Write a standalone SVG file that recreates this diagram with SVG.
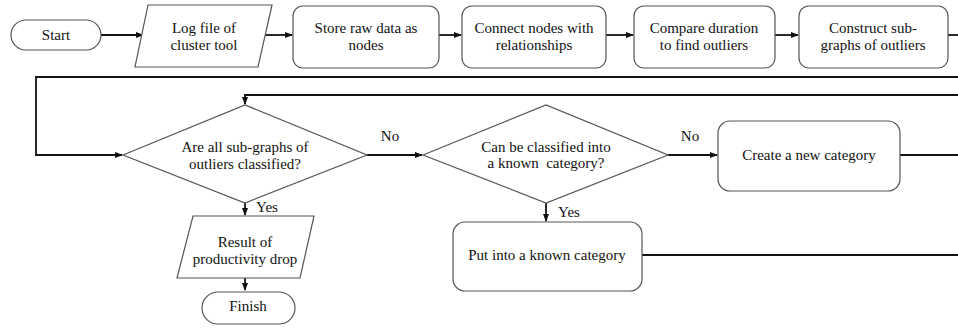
<svg xmlns="http://www.w3.org/2000/svg" width="958" height="328" viewBox="0 0 958 328">
<defs>
<marker id="ah" markerWidth="8" markerHeight="6" refX="7" refY="3" orient="auto" markerUnits="userSpaceOnUse">
<path d="M0,0 L8,3 L0,6 Z" fill="#111"/>
</marker>
<style>
.shape{fill:#fff;stroke:#555;stroke-width:1.2}
.c{fill:none;stroke:#111;stroke-width:1.8}
</style>
</defs>
<rect width="958" height="328" fill="#fff"/>
<g id="connectors">
<line class="c" x1="101" y1="35" x2="143" y2="35" marker-end="url(#ah)"/>
<line class="c" x1="265" y1="35" x2="292" y2="35" marker-end="url(#ah)"/>
<line class="c" x1="439" y1="35" x2="461" y2="35" marker-end="url(#ah)"/>
<line class="c" x1="606" y1="35" x2="633" y2="35" marker-end="url(#ah)"/>
<line class="c" x1="775" y1="35" x2="798" y2="35" marker-end="url(#ah)"/>
<polyline class="c" points="948,35 958,35"/>
<polyline class="c" points="958,77 36,77 36,155 122,155" marker-end="url(#ah)"/>
<polyline class="c" points="958,95 245,95 245,104" marker-end="url(#ah)"/>
<line class="c" x1="367" y1="155" x2="422" y2="155" marker-end="url(#ah)"/>
<line class="c" x1="668" y1="155" x2="717" y2="155" marker-end="url(#ah)"/>
<line class="c" x1="900" y1="155" x2="958" y2="155"/>
<line class="c" x1="642" y1="255" x2="958" y2="255"/>
<line class="c" x1="245" y1="203" x2="245" y2="215" marker-end="url(#ah)"/>
<line class="c" x1="546" y1="203" x2="546" y2="221" marker-end="url(#ah)"/>
<line class="c" x1="245" y1="278" x2="245" y2="290" marker-end="url(#ah)"/>
<text x="390" y="141" font-family="Liberation Serif" font-size="15" fill="#111" text-anchor="middle">No</text>
<text x="690" y="141" font-family="Liberation Serif" font-size="15" fill="#111" text-anchor="middle">No</text>
<text x="267" y="212" font-family="Liberation Serif" font-size="15" fill="#111" text-anchor="middle">Yes</text>
<text x="569" y="217" font-family="Liberation Serif" font-size="15" fill="#111" text-anchor="middle">Yes</text>
</g>
<g id="start">
<rect class="shape" x="11" y="20" width="90" height="30" rx="15"/>
<text x="56" y="40" font-family="Liberation Serif" font-size="15" fill="#111" text-anchor="middle">Start</text>
</g>
<g id="logfile">
<polygon class="shape" points="148,5 272,5 258,67 135,67"/>
<text x="204" y="33" font-family="Liberation Serif" font-size="15" fill="#111" text-anchor="middle">Log file of</text>
<text x="204" y="50" font-family="Liberation Serif" font-size="15" fill="#111" text-anchor="middle">cluster tool</text>
</g>
<g id="store">
<rect class="shape" x="293" y="6" width="146" height="62" rx="10"/>
<text x="366" y="33" font-family="Liberation Serif" font-size="15" fill="#111" text-anchor="middle">Store raw data as</text>
<text x="366" y="50" font-family="Liberation Serif" font-size="15" fill="#111" text-anchor="middle">nodes</text>
</g>
<g id="connect">
<rect class="shape" x="462" y="6" width="144" height="62" rx="10"/>
<text x="534" y="33" font-family="Liberation Serif" font-size="15" fill="#111" text-anchor="middle">Connect nodes with</text>
<text x="534" y="50" font-family="Liberation Serif" font-size="15" fill="#111" text-anchor="middle">relationships</text>
</g>
<g id="compare">
<rect class="shape" x="634" y="6" width="141" height="62" rx="10"/>
<text x="704" y="33" font-family="Liberation Serif" font-size="15" fill="#111" text-anchor="middle">Compare duration</text>
<text x="704" y="50" font-family="Liberation Serif" font-size="15" fill="#111" text-anchor="middle">to find outliers</text>
</g>
<g id="construct">
<rect class="shape" x="799" y="6" width="149" height="62" rx="10"/>
<text x="873" y="33" font-family="Liberation Serif" font-size="15" fill="#111" text-anchor="middle">Construct sub-</text>
<text x="873" y="50" font-family="Liberation Serif" font-size="15" fill="#111" text-anchor="middle">graphs of outliers</text>
</g>
<g id="decision1">
<polygon class="shape" points="123,155 245,105 367,155 245,203"/>
<text x="245" y="152" font-family="Liberation Serif" font-size="15" fill="#111" text-anchor="middle">Are all sub-graphs of</text>
<text x="245" y="169" font-family="Liberation Serif" font-size="15" fill="#111" text-anchor="middle">outliers classified?</text>
</g>
<g id="decision2">
<polygon class="shape" points="423,155 546,105 668,155 546,203"/>
<text x="546" y="152" font-family="Liberation Serif" font-size="15" fill="#111" text-anchor="middle">Can be classified into</text>
<text x="546" y="168" font-family="Liberation Serif" font-size="15" fill="#111" text-anchor="middle" xml:space="preserve">a known  category?</text>
</g>
<g id="newcat">
<rect class="shape" x="718" y="121" width="182" height="70" rx="12"/>
<text x="809" y="160" font-family="Liberation Serif" font-size="15" fill="#111" text-anchor="middle">Create a new category</text>
</g>
<g id="result">
<polygon class="shape" points="193,216 314,216 300,278 177,278"/>
<text x="245" y="247" font-family="Liberation Serif" font-size="15" fill="#111" text-anchor="middle">Result of</text>
<text x="245" y="264" font-family="Liberation Serif" font-size="15" fill="#111" text-anchor="middle">productivity drop</text>
</g>
<g id="finish">
<rect class="shape" x="202" y="292" width="93" height="32" rx="16"/>
<text x="248" y="311" font-family="Liberation Serif" font-size="15" fill="#111" text-anchor="middle">Finish</text>
</g>
<g id="known">
<rect class="shape" x="453" y="222" width="189" height="69" rx="12"/>
<text x="547" y="260" font-family="Liberation Serif" font-size="15" fill="#111" text-anchor="middle">Put into a known category</text>
</g>
</svg>
